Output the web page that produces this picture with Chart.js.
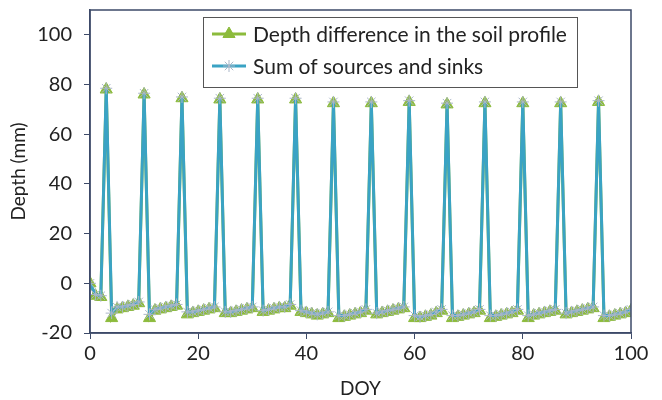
<!DOCTYPE html>
<html>
<head>
<meta charset="utf-8">
<script src="https://cdn.jsdelivr.net/npm/chart.js@4.4.1/dist/chart.umd.min.js"></script>
<style>
    html, body { margin: 0; padding: 0; background: #fff; }
    #wrap { width: 662px; height: 400px; position: relative; }
</style>
</head>
<body>
<div id="wrap"><canvas id="depthChart"></canvas></div>
<script>
// Day of year (x values)
const doy = [
    0, 1, 2, 3, 4, 5, 6, 7, 8, 9, 10, 11, 12, 13, 14, 15, 16, 17, 18, 19,
    20, 21, 22, 23, 24, 25, 26, 27, 28, 29, 30, 31, 32, 33, 34, 35, 36, 37, 38, 39,
    40, 41, 42, 43, 44, 45, 46, 47, 48, 49, 50, 51, 52, 53, 54, 55, 56, 57, 58, 59,
    60, 61, 62, 63, 64, 65, 66, 67, 68, 69, 70, 71, 72, 73, 74, 75, 76, 77, 78, 79,
    80, 81, 82, 83, 84, 85, 86, 87, 88, 89, 90, 91, 92, 93, 94, 95, 96, 97, 98, 99, 100
];

// Depth difference in the soil profile (mm)
const depthDiff = [
    0, -5, -5.5, 78, -14, -10.5, -10, -9.5, -9, -8,
    76, -14, -11, -10.5, -10, -9.5, -9, 74.5, -12.5, -12,
    -11.5, -11, -10.5, -10, 74, -12, -12, -11.5, -11, -10.5,
    -10, 74, -11.5, -11, -10.5, -10, -10, -9, 74, -11.5,
    -12, -12.5, -13, -12.5, -12, 72.5, -14, -13.5, -13, -12.5,
    -12, -11, 72.5, -12.5, -12, -11.5, -11, -10.5, -10, 73,
    -14, -14, -13.5, -13, -12, -11, 72, -14, -13.5, -13,
    -12.5, -12, -11, 72.5, -14, -13.5, -13, -12.5, -12, -11,
    72.5, -14, -13, -12.5, -12, -11.5, -11, 72.5, -12.5, -12,
    -11.5, -11, -10.5, -10, 73, -14, -13.5, -13, -12.5, -12, -11
];

// Sum of sources and sinks (mm)
const sourcesSinks = [
    0, -4.5, -5, 78.5, -12, -9.5, -9.5, -9, -8.5, -7.5,
    76.5, -12.5, -10.5, -10, -9.5, -9, -8.5, 75, -11.5, -11.5,
    -11, -10.5, -10, -9.5, 74.5, -11.5, -11.5, -11, -10.5, -10,
    -9.5, 74.5, -11, -10.5, -10, -9.5, -9.5, -8.5, 74.5, -11,
    -11.5, -12, -12.5, -12, -11.5, 73, -13, -13, -12.5, -12,
    -11.5, -10.5, 73, -12, -11.5, -11, -10.5, -10, -9.5, 73.5,
    -13, -13.5, -13, -12.5, -11.5, -10.5, 72.5, -13, -13, -12.5,
    -12, -11.5, -10.5, 73, -13, -13, -12.5, -12, -11.5, -10.5,
    73, -13, -12.5, -12, -11.5, -11, -10.5, 73, -12, -11.5,
    -11, -10.5, -10, -9.5, 73.5, -13, -13, -12.5, -12, -11.5, -10.5
];

const yTicks = [-20, 0, 20, 40, 60, 80, 100];
const xTicks = [0, 20, 40, 60, 80, 100];

const seriesNames = ['Depth difference in the soil profile', 'Sum of sources and sinks'];
const greenColor = '#8cbb3c';
const blueColor = '#3aa3c4';
const starColor = '#aab6c8';
const frameColor = '#3d4a68';
const textColor = '#222222';
const fontFamily = 'Lato, "Open Sans", sans-serif';

// Draw a frame round the plot area
const framePlugin = {
    id: 'frame',
    afterDraw(chart) {
        const { ctx, chartArea: a } = chart;
        ctx.save();
        ctx.strokeStyle = frameColor;
        ctx.lineWidth = 1.5;
        ctx.strokeRect(a.left, a.top, a.right - a.left, a.bottom - a.top);
        ctx.restore();
    }
};

// Legend drawn inside the plot, Excel style (line + marker)
const boxLegendPlugin = {
    id: 'boxLegend',
    afterDraw(chart) {
        const ctx = chart.ctx;
        const left = 203, top = 17, right = 577, bottom = 87;
        ctx.save();
        ctx.fillStyle = '#fff';
        ctx.fillRect(left, top, right - left, bottom - top);
        ctx.strokeStyle = '#555';
        ctx.lineWidth = 1;
        ctx.strokeRect(left + 0.5, top + 0.5, right - left, bottom - top);

        // fit the longest label to the width seen in the reference
        ctx.font = '20px ' + fontFamily;
        const longest = ctx.measureText(seriesNames[0]).width;
        const size = Math.min(22, 20 * 314 / longest);

        const rows = [34, 66];
        chart.data.datasets.forEach((ds, i) => {
            const y = rows[i];
            ctx.strokeStyle = ds.borderColor;
            ctx.lineWidth = 3;
            ctx.beginPath();
            ctx.moveTo(212, y);
            ctx.lineTo(246, y);
            ctx.stroke();
            ctx.fillStyle = ds.pointBackgroundColor;
            ctx.strokeStyle = ds.pointBorderColor;
            ctx.lineWidth = ds.pointBorderWidth;
            Chart.helpers.drawPoint(ctx, {
                pointStyle: ds.pointStyle,
                radius: ds.pointRadius,
                borderWidth: ds.pointBorderWidth
            }, 229, y);
            ctx.fillStyle = textColor;
            ctx.font = size + 'px ' + fontFamily;
            ctx.textBaseline = 'middle';
            ctx.fillText(ds.label, 253, y + 1);
        });
        ctx.restore();
    }
};

const ctx = document.getElementById('depthChart').getContext('2d');

const depthChart = new Chart(ctx, {
    type: 'line',
    data: {
        datasets: [{
            label: seriesNames[0],
            data: doy.map((d, i) => ({ x: d, y: depthDiff[i] })),
            borderColor: greenColor,
            backgroundColor: greenColor,
            borderWidth: 3,
            pointStyle: 'triangle',
            pointRadius: 7,
            pointBorderWidth: 1,
            pointBackgroundColor: greenColor,
            pointBorderColor: greenColor,
            tension: 0,
            order: 2
        }, {
            label: seriesNames[1],
            data: doy.map((d, i) => ({ x: d, y: sourcesSinks[i] })),
            borderColor: blueColor,
            backgroundColor: starColor,
            borderWidth: 3,
            pointStyle: 'star',
            pointRadius: 6,
            pointBorderWidth: 1,
            pointBorderColor: starColor,
            pointBackgroundColor: starColor,
            tension: 0,
            order: 1
        }]
    },
    options: {
        responsive: true,
        maintainAspectRatio: false,
        animation: false,
        layout: {
            padding: { top: 10, right: 31, left: 0, bottom: 0 }
        },
        scales: {
            x: {
                type: 'linear',
                min: 0,
                max: 100,
                afterBuildTicks: (scale) => { scale.ticks = xTicks.map(v => ({ value: v })); },
                afterFit: (scale) => { scale.height = 67; },
                grid: { drawOnChartArea: false, drawTicks: true, tickLength: 6, color: frameColor },
                border: { color: frameColor, width: 1.5 },
                ticks: {
                    color: textColor,
                    font: { family: fontFamily, size: 20 },
                    padding: 3,
                    maxRotation: 0
                },
                title: {
                    display: true,
                    text: 'DOY',
                    color: textColor,
                    font: { family: fontFamily, size: 19 },
                    padding: { top: 2, bottom: 0 }
                }
            },
            y: {
                type: 'linear',
                min: -20,
                max: 110,
                afterBuildTicks: (scale) => { scale.ticks = yTicks.map(v => ({ value: v })); },
                afterFit: (scale) => {
                    scale.width = 90;
                    // the top tick (100) sits below the plot edge, so no extra room is needed
                    scale.paddingTop = 0;
                    scale.paddingBottom = 0;
                },
                grid: { drawOnChartArea: false, drawTicks: true, tickLength: 6, color: frameColor },
                border: { color: frameColor, width: 1.5 },
                ticks: {
                    color: textColor,
                    font: { family: fontFamily, size: 20 },
                    padding: 12
                },
                title: {
                    display: true,
                    text: 'Depth (mm)',
                    color: textColor,
                    font: { family: fontFamily, size: 19 },
                    padding: { top: 7, bottom: 0 }
                }
            }
        },
        plugins: {
            legend: { display: false },
            tooltip: { enabled: false }
        }
    },
    plugins: [framePlugin, boxLegendPlugin]
});
</script>
</body>
</html>
